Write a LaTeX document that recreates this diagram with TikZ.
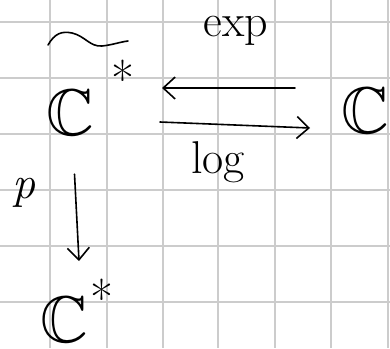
\documentclass[tikz,border=0pt]{standalone}
\usepackage{amssymb}
\usetikzlibrary{arrows.meta}
\newcommand{\starsup}[2]{\hspace{#1}\raisebox{#2}{\fontsize{50}{50}\selectfont *}}
\begin{document}
\begin{tikzpicture}[x=1pt,y=-1pt,
  gridline/.style={draw=black!20,line width=1.6pt},
  ink/.style={line width=1.6pt,line cap=round,line join=round},
  arr/.style={ink,-{Straight Barb[length=12pt,width=22pt,line width=1.6pt]}},
  big/.style={inner sep=0pt,font=\fontsize{66}{66}\selectfont},
  lab/.style={inner sep=0pt,font=\fontsize{46}{46}\selectfont}]
\useasboundingbox (0,0) rectangle (390,348);
\fill[white] (0,0) rectangle (390,348);
\foreach \x in {50,107,163,218,275,331,388} \draw[gridline] (\x,0) -- (\x,348);
\foreach \y in {22,78,134,190,246,302} \draw[gridline] (0,\y) -- (390,\y);
\node[big,anchor=base west] (A) at (46,135) {$\mathbb{C}$\starsup{18pt}{38pt}};
\node[big,anchor=base west] (B) at (341,133) {$\mathbb{C}$};
\node[big,anchor=base west] (D) at (40,342) {$\mathbb{C}$\starsup{3pt}{26pt}};
\draw[ink] ([shift={(2,-90)}]A.base west) .. controls +(7,-12) and +(-10,-2) .. ++(24,-12) .. controls +(13,3) and +(-12,1) .. ++(30,13) .. controls +(10,-1) and +(-8,1) .. ++(26,-5);
\draw[arr] ([shift={(-46,-45)}]B.base west) -- ([shift={(27,-47)}]A.base east);
\draw[arr] ([shift={(25,-13)}]A.base east) -- ([shift={(-31,-5)}]B.base west);
\draw[arr] ([shift={(-16,39)}]A.south) -- ([shift={(2,-81)}]D.base);
\node[lab,anchor=base] (exp) at (236,36) {exp};
\node[lab,anchor=base] (log) at (218,173) {log};
\node[lab,anchor=base] (p) at (24,198) {\itshape p};
\end{tikzpicture}
\end{document}
